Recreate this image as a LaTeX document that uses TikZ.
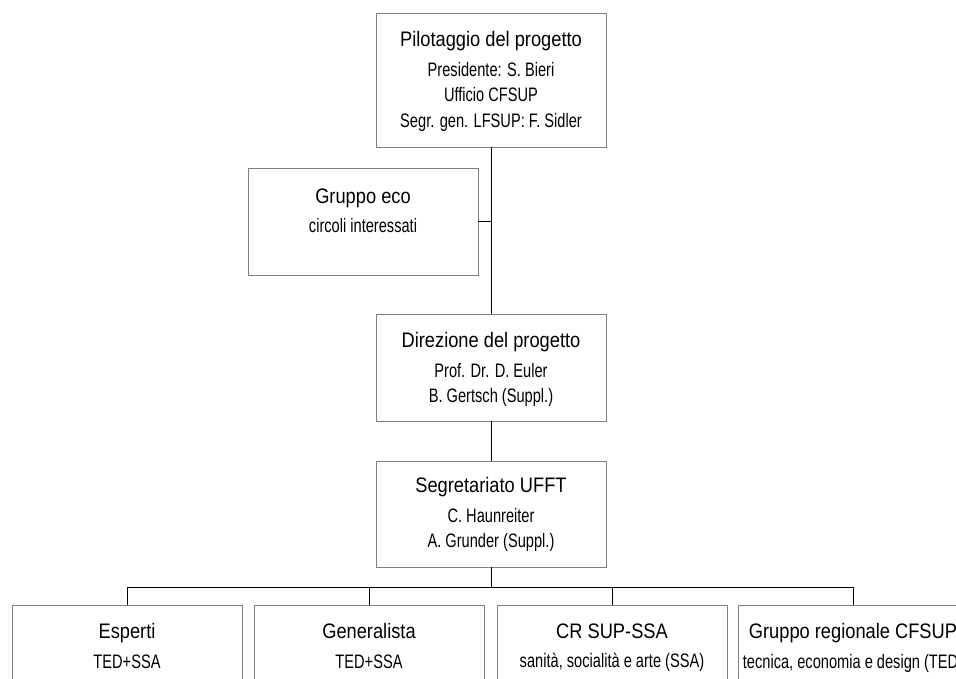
\documentclass[tikz,border=0pt]{standalone}
\usepackage{fontspec}
\setmainfont{Liberation Sans}
\newfontfamily\titlefont{Liberation Sans}[FakeStretch=0.87]
\newfontfamily\subfont{Liberation Sans}[FakeStretch=0.75]
\newcommand\boxtitle[1]{{\titlefont\fontsize{21}{25.5}\selectfont #1}\\[4pt]}

\begin{document}
\begin{tikzpicture}[x=1pt,y=-1pt,line cap=round,
  box/.style={draw=black!50,line width=0.9pt,minimum width=230pt,minimum height=107pt,inner sep=0pt},
  boxtext/.style={anchor=north,inner sep=0pt,align=center,yshift=-19pt,font=\subfont\fontsize{19.5}{25.5}\selectfont},
  link/.style={draw=black,line width=0.9pt}]
\useasboundingbox[fill=white] (0,0) rectangle (956,679);
\node[box,minimum height=134pt] (pil) at (491,80) {};
\node[boxtext] (piltxt) at (pil.north) {\boxtitle{Pilotaggio del progetto}Presidente: S. Bieri\\Ufficio CFSUP\\Segr. gen. LFSUP: F. Sidler};
\node[box] (eco) at (363,221.5) {};
\node[boxtext,yshift=-2pt] (ecotxt) at (eco.north) {\boxtitle{Gruppo eco}circoli interessati};
\node[box] (dir) at (491,367.5) {};
\node[boxtext] (dirtxt) at (dir.north) {\boxtitle{Direzione del progetto}Prof. Dr. D. Euler\\B. Gertsch (Suppl.)};
\node[box,minimum height=106pt] (seg) at (491,514) {};
\node[boxtext,yshift=2pt] (segtxt) at (seg.north) {\boxtitle{Segretariato UFFT}C. Haunreiter\\A. Grunder (Suppl.)};
\node[box] (esp) at (127,658.5) {};
\node[boxtext] (esptxt) at (esp.north) {\boxtitle{Esperti}TED+SSA};
\node[box] (gen) at (369,658.5) {};
\node[boxtext] (gentxt) at (gen.north) {\boxtitle{Generalista}TED+SSA};
\node[box] (crs) at (612,658.5) {};
\node[boxtext] (crstxt) at (crs.north) {\boxtitle{CR SUP-SSA}sanità, socialità e arte (SSA)};
\node[box] (grp) at (853,658.5) {};
\node[boxtext] (grptxt) at (grp.north) {\boxtitle{Gruppo regionale CFSUP}tecnica, economia e design (TED)};
\coordinate (bus) at ([yshift=-20pt]seg.south);
\draw[link] (pil.south) -- (dir.north);
\draw[link] (eco.east) -- (eco.east -| pil.south);
\draw[link] (dir.south) -- (seg.north);
\draw[link] (seg.south) -- (bus);
\draw[link] (esp.north) -- (esp.north |- bus) -| (grp.north);
\draw[link] (gen.north) -- (gen.north |- bus);
\draw[link] (crs.north) -- (crs.north |- bus);
\end{tikzpicture}
\end{document}
